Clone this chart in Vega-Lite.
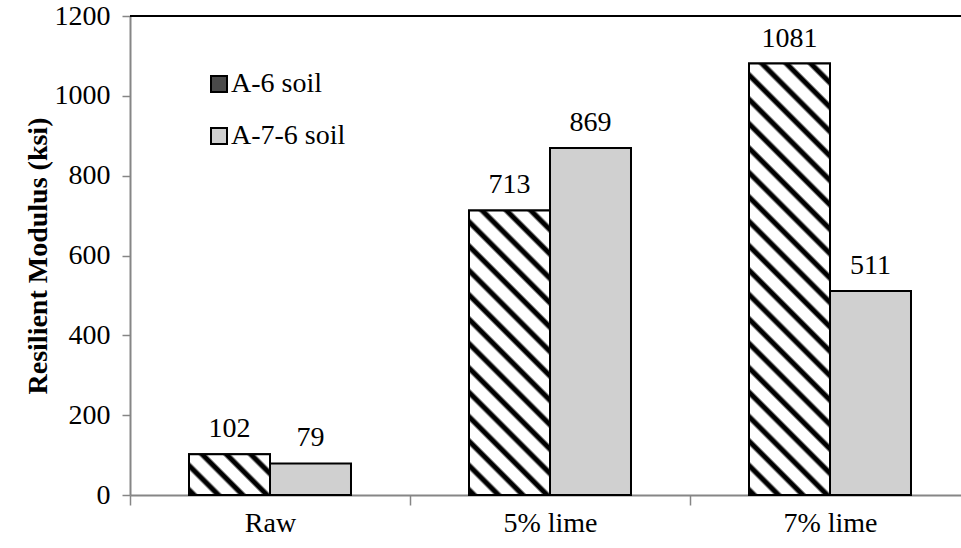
{
  "$schema": "https://vega.github.io/schema/vega-lite/v6.json",
  "width": 831,
  "height": 479,
  "autosize": {"type": "none"},
  "padding": {"left": 130, "top": 16, "right": 0, "bottom": 53},
  "background": "white",
  "config": {"view": {"stroke": null}},
  "data": {
    "values": [
      {"group": "Raw", "soil": "A-6 soil", "value": 102},
      {"group": "Raw", "soil": "A-7-6 soil", "value": 79},
      {"group": "5% lime", "soil": "A-6 soil", "value": 713},
      {"group": "5% lime", "soil": "A-7-6 soil", "value": 869},
      {"group": "7% lime", "soil": "A-6 soil", "value": 1081},
      {"group": "7% lime", "soil": "A-7-6 soil", "value": 511}
    ]
  },
  "encoding": {
    "x": {
      "field": "group", "type": "nominal", "sort": ["Raw", "5% lime", "7% lime"],
      "scale": {"range": [0, 840], "paddingInner": 0, "paddingOuter": 0},
      "axis": {
        "title": null, "labelAngle": 0, "labelFont": "Liberation Serif", "labelFontSize": 28,
        "labelColor": "black", "tickBand": "extent", "tickSize": 10, "labelPadding": 4,
        "domainColor": "#868686", "tickColor": "#868686", "domainWidth": 2, "tickWidth": 1.5
      }
    },
    "xOffset": {"field": "soil", "type": "nominal", "scale": {"paddingOuter": 0.7284, "paddingInner": 0}},
    "y": {
      "field": "value", "type": "quantitative",
      "scale": {"domain": [0, 1200], "nice": false},
      "axis": {
        "values": [0, 200, 400, 600, 800, 1000, 1200], "grid": false, "format": "d",
        "title": "Resilient Modulus (ksi)", "titleFont": "Liberation Serif", "titleFontSize": 28,
        "titleFontWeight": "bold", "titleColor": "black", "titlePadding": 2,
        "labelFont": "Liberation Serif", "labelFontSize": 28, "labelColor": "black",
        "tickSize": 8, "labelPadding": 12, "tickColor": "#868686", "domainColor": "#868686",
        "domainWidth": 2, "tickWidth": 1.5
      }
    }
  },
  "layer": [
    {
      "mark": {"type": "rule", "color": "black", "strokeWidth": 1.6},
      "encoding": {"x": null, "xOffset": null, "y": {"datum": 1200, "type": "quantitative"}}
    },
    {
      "mark": {"type": "bar", "strokeWidth": 2},
      "encoding": {
        "fill": {
          "field": "soil", "type": "nominal",
          "scale": {"domain": ["A-6 soil", "A-7-6 soil"], "range": ["#4a4a4a", "#d0d0d0"]},
          "legend": {
            "title": null, "orient": "none", "legendX": 75, "legendY": 54,
            "symbolType": "square", "symbolSize": 256, "symbolStrokeWidth": 2, "symbolOpacity": 1,
            "labelFont": "Liberation Serif", "labelFontSize": 28, "labelColor": "black",
            "labelOffset": -2, "rowPadding": 24, "labelLimit": 300
          }
        },
        "stroke": {
          "field": "soil", "type": "nominal",
          "scale": {"domain": ["A-6 soil", "A-7-6 soil"], "range": ["black", "black"]},
          "legend": {
            "title": null, "orient": "none", "legendX": 75, "legendY": 54,
            "symbolType": "square", "symbolSize": 256, "symbolStrokeWidth": 2, "symbolOpacity": 1,
            "labelFont": "Liberation Serif", "labelFontSize": 28, "labelColor": "black",
            "labelOffset": -2, "rowPadding": 24, "labelLimit": 300
          }
        }
      }
    },
    {
      "transform": [{"filter": "datum.soil === 'A-6 soil'"}],
      "mark": {"type": "bar", "stroke": "black", "strokeWidth": 2},
      "encoding": {
        "fill": {
          "condition": [
            {
              "test": "datum.group === 'Raw'",
              "value": {
                "gradient": "linear", "x1": 0, "y1": 1, "x2": 1.1997, "y2": 0.3976,
                "stops": [
                  {"offset": 0, "color": "white"}, {"offset": 0.024, "color": "black"}, {"offset": 0.06, "color": "black"}, {"offset": 0.084, "color": "white"},
                  {"offset": 0.2, "color": "white"}, {"offset": 0.224, "color": "black"}, {"offset": 0.26, "color": "black"}, {"offset": 0.284, "color": "white"},
                  {"offset": 0.4, "color": "white"}, {"offset": 0.424, "color": "black"}, {"offset": 0.46, "color": "black"}, {"offset": 0.484, "color": "white"},
                  {"offset": 0.6, "color": "white"}, {"offset": 0.624, "color": "black"}, {"offset": 0.66, "color": "black"}, {"offset": 0.684, "color": "white"},
                  {"offset": 0.8, "color": "white"}, {"offset": 0.824, "color": "black"}, {"offset": 0.86, "color": "black"}, {"offset": 0.884, "color": "white"}
                ]
              }
            },
            {
              "test": "datum.group === '5% lime'",
              "value": {
                "gradient": "linear", "x1": 0, "y1": 1, "x2": 0.33859, "y2": -0.18843,
                "stops": [
                  {"offset": 0, "color": "white"}, {"offset": 0.008, "color": "black"}, {"offset": 0.02, "color": "black"}, {"offset": 0.028, "color": "white"},
                  {"offset": 0.0667, "color": "white"}, {"offset": 0.0747, "color": "black"}, {"offset": 0.0867, "color": "black"}, {"offset": 0.0947, "color": "white"},
                  {"offset": 0.1333, "color": "white"}, {"offset": 0.1413, "color": "black"}, {"offset": 0.1533, "color": "black"}, {"offset": 0.1613, "color": "white"},
                  {"offset": 0.2, "color": "white"}, {"offset": 0.208, "color": "black"}, {"offset": 0.22, "color": "black"}, {"offset": 0.228, "color": "white"},
                  {"offset": 0.2667, "color": "white"}, {"offset": 0.2747, "color": "black"}, {"offset": 0.2867, "color": "black"}, {"offset": 0.2947, "color": "white"},
                  {"offset": 0.3333, "color": "white"}, {"offset": 0.3413, "color": "black"}, {"offset": 0.3533, "color": "black"}, {"offset": 0.3613, "color": "white"},
                  {"offset": 0.4, "color": "white"}, {"offset": 0.408, "color": "black"}, {"offset": 0.42, "color": "black"}, {"offset": 0.428, "color": "white"},
                  {"offset": 0.4667, "color": "white"}, {"offset": 0.4747, "color": "black"}, {"offset": 0.4867, "color": "black"}, {"offset": 0.4947, "color": "white"},
                  {"offset": 0.5333, "color": "white"}, {"offset": 0.5413, "color": "black"}, {"offset": 0.5533, "color": "black"}, {"offset": 0.5613, "color": "white"},
                  {"offset": 0.6, "color": "white"}, {"offset": 0.608, "color": "black"}, {"offset": 0.62, "color": "black"}, {"offset": 0.628, "color": "white"},
                  {"offset": 0.6667, "color": "white"}, {"offset": 0.6747, "color": "black"}, {"offset": 0.6867, "color": "black"}, {"offset": 0.6947, "color": "white"},
                  {"offset": 0.7333, "color": "white"}, {"offset": 0.7413, "color": "black"}, {"offset": 0.7533, "color": "black"}, {"offset": 0.7613, "color": "white"},
                  {"offset": 0.8, "color": "white"}, {"offset": 0.808, "color": "black"}, {"offset": 0.82, "color": "black"}, {"offset": 0.828, "color": "white"},
                  {"offset": 0.8667, "color": "white"}, {"offset": 0.8747, "color": "black"}, {"offset": 0.8867, "color": "black"}, {"offset": 0.8947, "color": "white"},
                  {"offset": 0.9333, "color": "white"}, {"offset": 0.9413, "color": "black"}, {"offset": 0.9533, "color": "black"}, {"offset": 0.9613, "color": "white"}
                ]
              }
            }
          ],
          "value": {
            "gradient": "linear", "x1": 0, "y1": 1, "x2": 0.21561, "y2": -0.14742,
            "stops": [
              {"offset": 0, "color": "white"}, {"offset": 0.0057, "color": "black"}, {"offset": 0.0143, "color": "black"}, {"offset": 0.02, "color": "white"},
              {"offset": 0.0476, "color": "white"}, {"offset": 0.0533, "color": "black"}, {"offset": 0.0619, "color": "black"}, {"offset": 0.0676, "color": "white"},
              {"offset": 0.0952, "color": "white"}, {"offset": 0.101, "color": "black"}, {"offset": 0.1095, "color": "black"}, {"offset": 0.1152, "color": "white"},
              {"offset": 0.1429, "color": "white"}, {"offset": 0.1486, "color": "black"}, {"offset": 0.1571, "color": "black"}, {"offset": 0.1629, "color": "white"},
              {"offset": 0.1905, "color": "white"}, {"offset": 0.1962, "color": "black"}, {"offset": 0.2048, "color": "black"}, {"offset": 0.2105, "color": "white"},
              {"offset": 0.2381, "color": "white"}, {"offset": 0.2438, "color": "black"}, {"offset": 0.2524, "color": "black"}, {"offset": 0.2581, "color": "white"},
              {"offset": 0.2857, "color": "white"}, {"offset": 0.2914, "color": "black"}, {"offset": 0.3, "color": "black"}, {"offset": 0.3057, "color": "white"},
              {"offset": 0.3333, "color": "white"}, {"offset": 0.339, "color": "black"}, {"offset": 0.3476, "color": "black"}, {"offset": 0.3533, "color": "white"},
              {"offset": 0.381, "color": "white"}, {"offset": 0.3867, "color": "black"}, {"offset": 0.3952, "color": "black"}, {"offset": 0.401, "color": "white"},
              {"offset": 0.4286, "color": "white"}, {"offset": 0.4343, "color": "black"}, {"offset": 0.4429, "color": "black"}, {"offset": 0.4486, "color": "white"},
              {"offset": 0.4762, "color": "white"}, {"offset": 0.4819, "color": "black"}, {"offset": 0.4905, "color": "black"}, {"offset": 0.4962, "color": "white"},
              {"offset": 0.5238, "color": "white"}, {"offset": 0.5295, "color": "black"}, {"offset": 0.5381, "color": "black"}, {"offset": 0.5438, "color": "white"},
              {"offset": 0.5714, "color": "white"}, {"offset": 0.5771, "color": "black"}, {"offset": 0.5857, "color": "black"}, {"offset": 0.5914, "color": "white"},
              {"offset": 0.619, "color": "white"}, {"offset": 0.6248, "color": "black"}, {"offset": 0.6333, "color": "black"}, {"offset": 0.639, "color": "white"},
              {"offset": 0.6667, "color": "white"}, {"offset": 0.6724, "color": "black"}, {"offset": 0.681, "color": "black"}, {"offset": 0.6867, "color": "white"},
              {"offset": 0.7143, "color": "white"}, {"offset": 0.72, "color": "black"}, {"offset": 0.7286, "color": "black"}, {"offset": 0.7343, "color": "white"},
              {"offset": 0.7619, "color": "white"}, {"offset": 0.7676, "color": "black"}, {"offset": 0.7762, "color": "black"}, {"offset": 0.7819, "color": "white"},
              {"offset": 0.8095, "color": "white"}, {"offset": 0.8152, "color": "black"}, {"offset": 0.8238, "color": "black"}, {"offset": 0.8295, "color": "white"},
              {"offset": 0.8571, "color": "white"}, {"offset": 0.8629, "color": "black"}, {"offset": 0.8714, "color": "black"}, {"offset": 0.8771, "color": "white"},
              {"offset": 0.9048, "color": "white"}, {"offset": 0.9105, "color": "black"}, {"offset": 0.919, "color": "black"}, {"offset": 0.9248, "color": "white"},
              {"offset": 0.9524, "color": "white"}, {"offset": 0.9581, "color": "black"}, {"offset": 0.9667, "color": "black"}, {"offset": 0.9724, "color": "white"}
            ]
          }
        }
      }
    },
    {
      "mark": {"type": "text", "font": "Liberation Serif", "fontSize": 28, "baseline": "alphabetic", "dy": -17, "color": "black"},
      "encoding": {"text": {"field": "value", "type": "quantitative"}}
    }
  ]
}
